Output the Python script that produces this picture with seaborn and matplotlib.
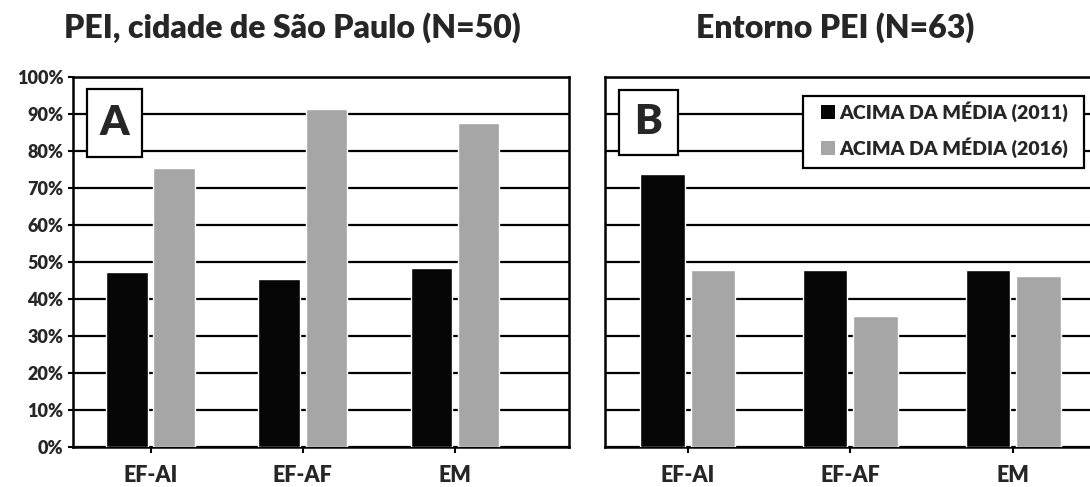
import matplotlib
matplotlib.use("Agg")
import matplotlib.pyplot as plt
import matplotlib.patches as mpatches
import seaborn as sns
import pandas as pd
from matplotlib.ticker import PercentFormatter, MultipleLocator

# ---- data ----
categories = ["EF-AI", "EF-AF", "EM"]
series = ["ACIMA DA MÉDIA (2011)", "ACIMA DA MÉDIA (2016)"]
pei_2011 = [0.472, 0.452, 0.482]
pei_2016 = [0.752, 0.914, 0.875]
entorno_2011 = [0.737, 0.477, 0.477]
entorno_2016 = [0.477, 0.354, 0.462]
titles = ["PEI, cidade de São Paulo (N=50)", "Entorno PEI (N=63)"]
panel_labels = ["A", "B"]
colors = ["#050505", "#a6a6a6"]

sns.set_theme(style="white")
plt.rcParams["font.family"] = ["Lato", "DejaVu Sans"]
plt.rcParams["font.weight"] = "bold"
HW = 800

def long_df(v11, v16):
    return pd.DataFrame({
        "cat": categories * 2,
        "val": list(v11) + list(v16),
        "serie": [series[0]] * 3 + [series[1]] * 3,
    })

fig = plt.figure(figsize=(10.9, 4.87), dpi=100)
W, H = 1090, 487
axA = fig.add_axes([73 / W, 1 - 446.7 / H, 496 / W, 370 / H])
axB = fig.add_axes([604.5 / W, 1 - 446.7 / H, 531 / W, 370 / H])

for ax, (v11, v16), show_y in [(axA, (pei_2011, pei_2016), True),
                               (axB, (entorno_2011, entorno_2016), False)]:
    sns.barplot(data=long_df(v11, v16), x="cat", y="val", hue="serie",
                palette=colors, width=0.62, gap=0.12, saturation=1,
                legend=False, ax=ax, zorder=3)
    ax.set_ylim(0, 1)
    ax.set_xlim(-0.51, 2.75)
    ax.yaxis.set_major_locator(MultipleLocator(0.1))
    ax.yaxis.set_major_formatter(PercentFormatter(1.0, decimals=0))
    ax.set_axisbelow(True)
    ax.yaxis.grid(True, color="black", linewidth=1.6)
    ax.xaxis.grid(False)
    ax.set_xlabel("")
    ax.set_ylabel("")
    for s in ax.spines.values():
        s.set_visible(True)
        s.set_color("black")
        s.set_linewidth(1.8)
    ax.tick_params(axis="x", direction="out", length=4.5, width=1.5,
                   color="black", pad=9, labelsize=15.5, bottom=True)
    for lab in ax.get_xticklabels():
        lab.set_fontweight(HW)
    if show_y:
        ax.tick_params(axis="y", direction="out", length=3.8, width=1.5,
                       color="black", labelsize=13, left=True, pad=3)
        for lab in ax.get_yticklabels():
            lab.set_fontweight(HW)
    else:
        ax.tick_params(axis="y", left=False, labelleft=False)

# titles
fig.text(292 / W, 1 - 28 / H, titles[0], ha="center", va="center",
         fontsize=23, fontweight=HW)
fig.text(835 / W, 1 - 28 / H, titles[1], ha="center", va="center",
         fontsize=23, fontweight=HW)

# panel letter boxes
for (x0, x1, y0, y1), lab in [((87, 141.7, 89.3, 156.7), panel_labels[0]),
                              ((619, 678, 90, 155), panel_labels[1])]:
    rect = mpatches.Rectangle((x0 / W, 1 - y1 / H), (x1 - x0) / W, (y1 - y0) / H,
                              transform=fig.transFigure, facecolor="white",
                              edgecolor="black", linewidth=1.6, zorder=10)
    fig.add_artist(rect)
    fig.text((x0 + x1) / 2 / W, 1 - (y0 + y1) / 2 / H, lab, ha="center",
             va="center", fontsize=30, fontweight=HW, zorder=11)

# legend frame (drawn separately to match the reference box)
lx0, lx1, ly0, ly1 = 802.7, 1084, 96, 167.7
lrect = mpatches.Rectangle((lx0 / W, 1 - ly1 / H), (lx1 - lx0) / W, (ly1 - ly0) / H,
                           transform=fig.transFigure, facecolor="white",
                           edgecolor="black", linewidth=1.6, zorder=10)
fig.add_artist(lrect)

handles = [mpatches.Patch(facecolor=c, edgecolor="none") for c in colors]
leg = fig.legend(handles, series, loc="upper right",
                 bbox_to_anchor=(1068 / W, 1 - 101 / H),
                 bbox_transform=fig.transFigure, borderaxespad=0,
                 frameon=False,
                 prop={"weight": HW, "size": 14},
                 handlelength=0.75, handleheight=0.75, handletextpad=0.2,
                 labelspacing=0.8, borderpad=0)
leg.set_zorder(12)

fig.savefig("out.png", dpi=100, facecolor="white")
